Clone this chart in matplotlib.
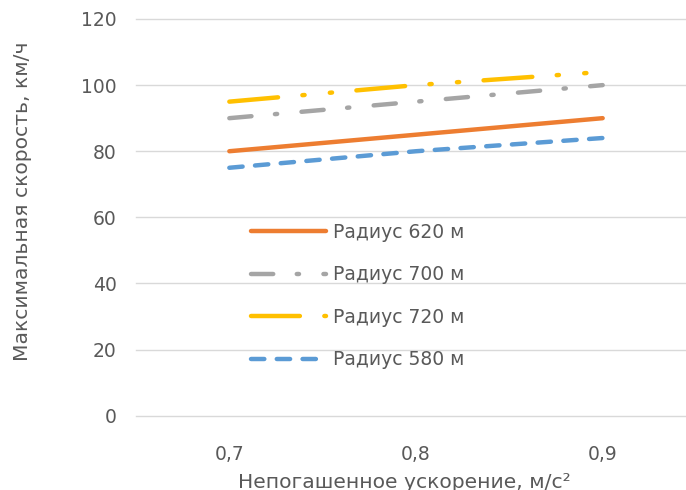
import matplotlib
matplotlib.use("Agg")
import matplotlib.pyplot as plt

categories = ["0,7", "0,8", "0,9"]
r620 = [80, 85, 90]
r700 = [90, 95, 100]
r720 = [95, 100, 104]
r580 = [75, 80, 84]
labels = ["Радиус 620 м", "Радиус 700 м", "Радиус 720 м", "Радиус 580 м"]
yticks = [0, 20, 40, 60, 80, 100, 120]

plt.rcParams['font.family'] = ['DejaVu Sans']
FS = 13.5
FT = 14.6
TXT = '#595959'

W, H = 686, 490
fig = plt.figure(figsize=(W/100, H/100), dpi=100)
left, right, top, bottom = 136, 696, 19, 415.7
ax = fig.add_axes([left/W, (H-bottom)/H, (right-left)/W, (bottom-top)/H])

x = list(range(len(categories)))
lw = 3.2
kw = dict(lw=lw, solid_capstyle='round', dash_capstyle='round')
ax.plot(x, r620, color='#ED7D31', label=labels[0], **kw)
ax.plot(x, r700, color='#A5A5A5', label=labels[1], linestyle=(0, (5, 5.3, 0.5, 5.5)), **kw)
ax.plot(x, r720, color='#FFC000', label=labels[2], linestyle=(0, (11, 5.5, 0.5, 5.7, 0.5, 5.5)), **kw)
ax.plot(x, r580, color='#5B9BD5', label=labels[3], linestyle=(0, (3.0, 2.8)), **kw)

ax.set_xlim(-0.5, 2.5)
ax.set_ylim(0, 120)
ax.set_xticks(x)
ax.set_xticklabels(categories)
ax.set_yticks(yticks)
ax.grid(axis='y', color='#D9D9D9', lw=1)
for gl in ax.get_ygridlines():
    gl.set_clip_on(False)
ax.set_axisbelow(True)
for s in ax.spines.values():
    s.set_visible(False)
ax.tick_params(axis='both', length=0, labelsize=FS, labelcolor=TXT)
ax.tick_params(axis='y', pad=14)
ax.tick_params(axis='x', pad=21)

ax.set_ylabel("Максимальная скорость, км/ч", fontsize=FT, color=TXT, va='center')
ax.yaxis.set_label_coords((23-left)/(right-left), (bottom-201.5)/(bottom-top))
ax.set_xlabel("Непогашенное ускорение, м/с²", fontsize=FT, color=TXT, va='top')
ax.xaxis.set_label_coords((404-left)/(right-left), (bottom-473)/(bottom-top))

leg = ax.legend(loc='upper left', bbox_to_anchor=(251/W, (H-223)/H), bbox_transform=fig.transFigure,
                frameon=False, fontsize=FS, handlelength=4.0, handletextpad=0.35,
                labelspacing=1.25, borderpad=0, borderaxespad=0)
for t in leg.get_texts():
    t.set_color(TXT)

fig.savefig("out.png", dpi=100)
